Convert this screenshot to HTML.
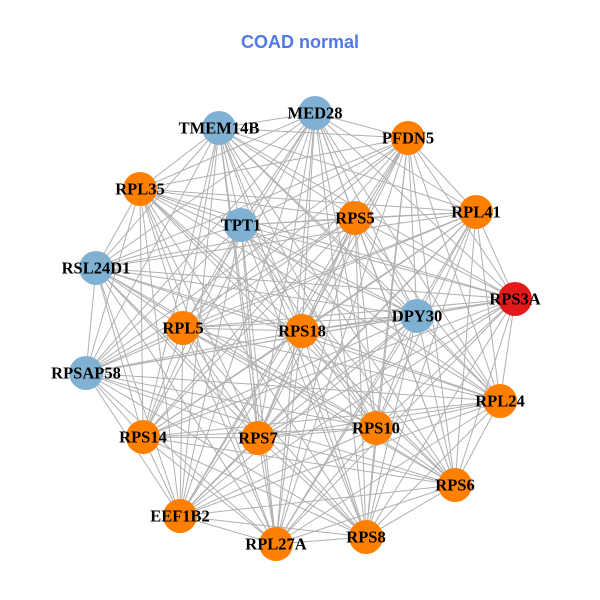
<!DOCTYPE html>
<html><head><meta charset="utf-8"><style>
html,body{margin:0;padding:0;background:#fff;}
svg{display:block;}
text.l{font-family:"Liberation Serif",serif;font-weight:bold;font-size:16.5px;fill:#000;text-anchor:middle;dominant-baseline:central;}
</style></head><body>
<svg id="s" width="600" height="600" xmlns="http://www.w3.org/2000/svg">
<rect width="600" height="600" fill="#fff"/>
<text x="300" y="42" text-anchor="middle" dominant-baseline="central" font-family="Liberation Sans, sans-serif" font-weight="bold" font-size="18" fill="#4f79e6">COAD normal</text>
<g id="edges" stroke="#b0b0b0" stroke-width="1"></g>
<g id="nodes">
<circle cx="315" cy="113" r="17" fill="#80b1d3"/>
<circle cx="219" cy="128" r="17" fill="#80b1d3"/>
<circle cx="408" cy="138" r="17" fill="#ff7f00"/>
<circle cx="140" cy="189" r="17" fill="#ff7f00"/>
<circle cx="241" cy="225" r="17" fill="#80b1d3"/>
<circle cx="355" cy="218" r="17" fill="#ff7f00"/>
<circle cx="476" cy="212" r="17" fill="#ff7f00"/>
<circle cx="96" cy="268" r="17" fill="#80b1d3"/>
<circle cx="515" cy="299" r="17" fill="#e31a1c"/>
<circle cx="417" cy="316" r="17" fill="#80b1d3"/>
<circle cx="183" cy="328" r="17" fill="#ff7f00"/>
<circle cx="302" cy="331" r="17" fill="#ff7f00"/>
<circle cx="86" cy="373" r="17" fill="#80b1d3"/>
<circle cx="500" cy="401" r="17" fill="#ff7f00"/>
<circle cx="143" cy="437" r="17" fill="#ff7f00"/>
<circle cx="258" cy="438" r="17" fill="#ff7f00"/>
<circle cx="376" cy="428" r="17" fill="#ff7f00"/>
<circle cx="455" cy="485" r="17" fill="#ff7f00"/>
<circle cx="180" cy="516" r="17" fill="#ff7f00"/>
<circle cx="276" cy="544" r="17" fill="#ff7f00"/>
<circle cx="366" cy="537" r="17" fill="#ff7f00"/>
</g>
<g>
<text class="l" x="315" y="113">MED28</text>
<text class="l" x="219" y="128">TMEM14B</text>
<text class="l" x="408" y="138">PFDN5</text>
<text class="l" x="140" y="189">RPL35</text>
<text class="l" x="241" y="225">TPT1</text>
<text class="l" x="355" y="218">RPS5</text>
<text class="l" x="476" y="212">RPL41</text>
<text class="l" x="96" y="268">RSL24D1</text>
<text class="l" x="515" y="299">RPS3A</text>
<text class="l" x="417" y="316">DPY30</text>
<text class="l" x="183" y="328">RPL5</text>
<text class="l" x="302" y="331">RPS18</text>
<text class="l" x="86" y="373">RPSAP58</text>
<text class="l" x="500" y="401">RPL24</text>
<text class="l" x="143" y="437">RPS14</text>
<text class="l" x="258" y="438">RPS7</text>
<text class="l" x="376" y="428">RPS10</text>
<text class="l" x="455" y="485">RPS6</text>
<text class="l" x="180" y="516">EEF1B2</text>
<text class="l" x="276" y="544">RPL27A</text>
<text class="l" x="366" y="537">RPS8</text>
</g>
</svg>
<script>
var cs=document.querySelectorAll('#nodes circle'),g=document.getElementById('edges'),ns='http://www.w3.org/2000/svg';
for(var i=0;i<cs.length;i++)for(var j=i+1;j<cs.length;j++){
var l=document.createElementNS(ns,'line');
l.setAttribute('x1',cs[i].getAttribute('cx'));l.setAttribute('y1',cs[i].getAttribute('cy'));
l.setAttribute('x2',cs[j].getAttribute('cx'));l.setAttribute('y2',cs[j].getAttribute('cy'));
g.appendChild(l);}
</script>
</body></html>
